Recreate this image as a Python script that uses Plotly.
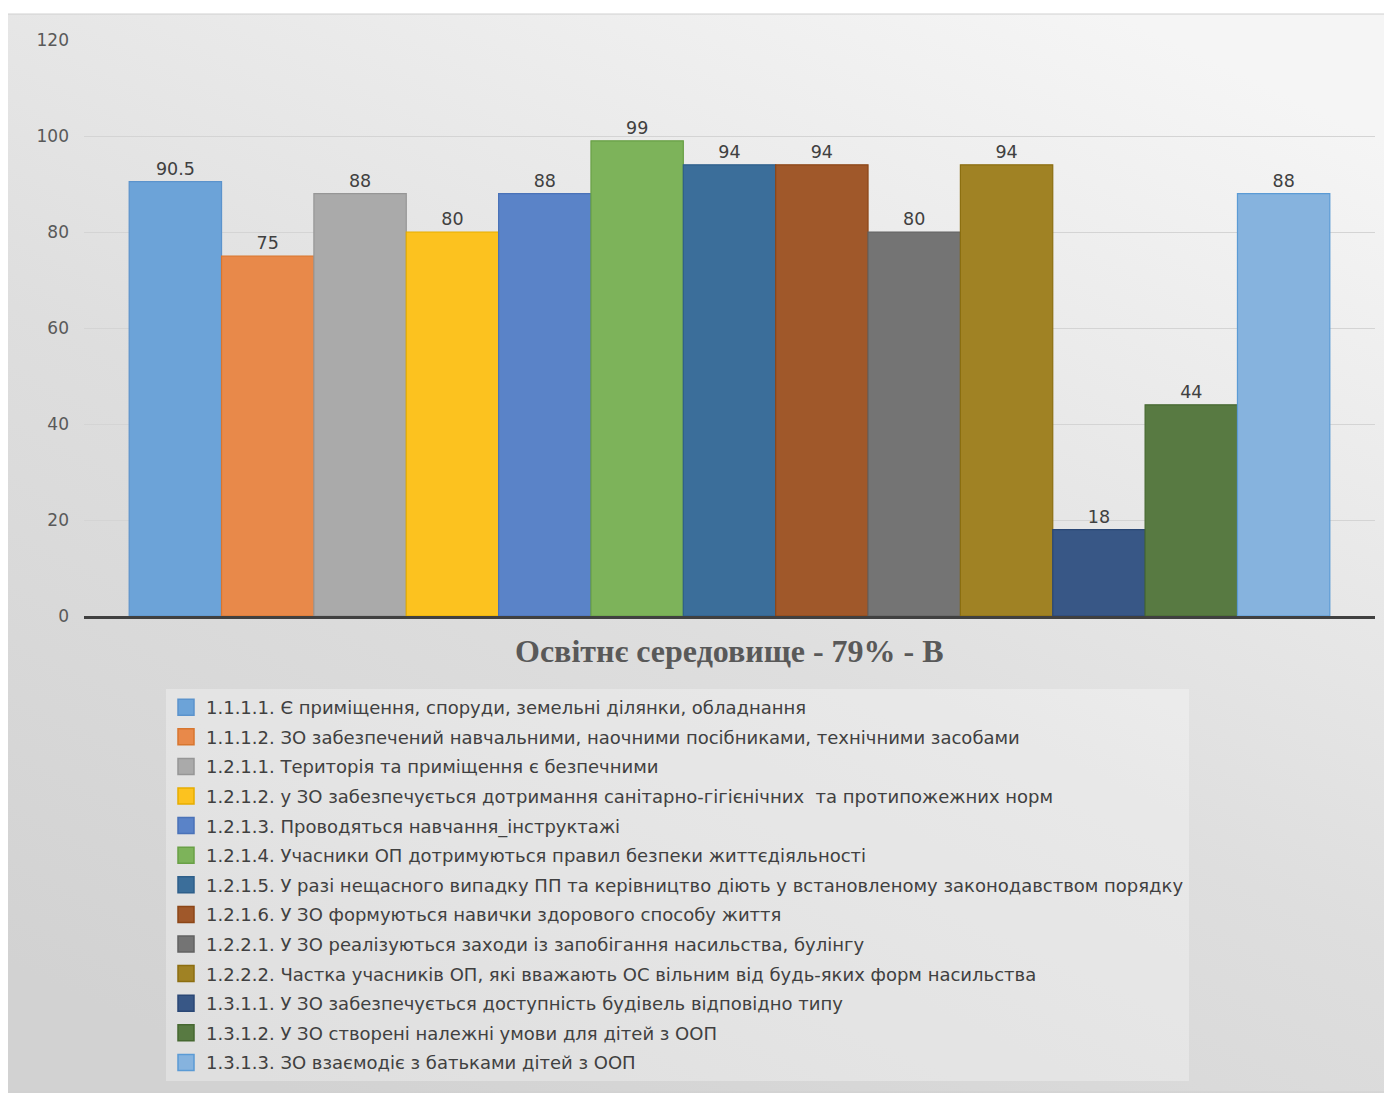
import base64
import plotly.graph_objects as go

labels = [
    "1.1.1.1. Є приміщення, споруди, земельні ділянки, обладнання",
    "1.1.1.2. ЗО забезпечений навчальними, наочними посібниками, технічними засобами",
    "1.2.1.1. Територія та приміщення є безпечними",
    "1.2.1.2. у ЗО забезпечується дотримання санітарно-гігієнічних  та протипожежних норм",
    "1.2.1.3. Проводяться навчання_інструктажі",
    "1.2.1.4. Учасники ОП дотримуються правил безпеки життєдіяльності",
    "1.2.1.5. У разі нещасного випадку ПП та керівництво діють у встановленому законодавством порядку",
    "1.2.1.6. У ЗО формуються навички здорового способу життя",
    "1.2.2.1. У ЗО реалізуються заходи із запобігання насильства, булінгу",
    "1.2.2.2. Частка учасників ОП, які вважають ОС вільним від будь-яких форм насильства",
    "1.3.1.1. У ЗО забезпечується доступність будівель відповідно типу",
    "1.3.1.2. У ЗО створені належні умови для дітей з ООП",
    "1.3.1.3. ЗО взаємодіє з батьками дітей з ООП",
]
values = [90.5, 75, 88, 80, 88, 99, 94, 94, 80, 94, 18, 44, 88]
value_text = ["90.5", "75", "88", "80", "88", "99", "94", "94", "80", "94", "18", "44", "88"]
fill_colors = ["#6ca3d8", "#e8894a", "#aaaaaa", "#fcc21f", "#5a83c8", "#7db35a", "#3b6e9a",
               "#a0582a", "#747474", "#a08224", "#385786", "#587a42", "#86b3de"]
line_colors = ["#5b93cc", "#d7762f", "#969696", "#e6ad00", "#4a72b8", "#69a046", "#2e5f8a",
               "#8c4617", "#626262", "#8c6e10", "#2a4775", "#466830", "#5b9bd5"]
title_text = "Освітнє середовище - 79% - В"
y_ticks = [0, 20, 40, 60, 80, 100, 120]

OFF = 8  # page body margin offset
W, H = 1392 - OFF, 1093 - OFF
L = 84 - OFF
T = 40 - OFF
R = W - (1375 - OFF)
B = H - (616 - OFF)
pw, ph = W - L - R, H - T - B

def px_x(p):
    return (p - OFF - L) / pw

def px_y(p):
    return (H - B - (p - OFF)) / ph

fig = go.Figure()
for i, (lab, v, t, fc, lc) in enumerate(zip(labels, values, value_text, fill_colors, line_colors)):
    fig.add_trace(go.Bar(
        x=[""], y=[v], name=lab, text=[t], textposition="outside",
        textfont=dict(size=17.5, color="#404040", family="DejaVu Sans"),
        marker=dict(color=fc, line=dict(color=lc, width=1.2)),
        showlegend=False, cliponaxis=False, hoverinfo="skip",
    ))
for i, (lab, fc, lc) in enumerate(zip(labels, fill_colors, line_colors)):
    fig.add_trace(go.Scatter(
        x=[None], y=[None], mode="markers", name=lab, legendgroup=f"g{i}",
        marker=dict(symbol="square", size=16, color=fc, line=dict(color=lc, width=1.5)),
        hoverinfo="skip",
    ))

svg = ('<svg xmlns="http://www.w3.org/2000/svg" width="100" height="100" preserveAspectRatio="none">'
       '<defs><linearGradient id="g" x1="0.8" y1="0" x2="0.2" y2="1">'
       '<stop offset="0" stop-color="#f5f5f5"/><stop offset="0.55" stop-color="#dedede"/>'
       '<stop offset="1" stop-color="#d2d2d2"/></linearGradient></defs>'
       '<rect width="100" height="100" fill="url(#g)"/></svg>')
src = "data:image/svg+xml;base64," + base64.b64encode(svg.encode()).decode()

fig.update_layout(
    width=W, height=H,
    margin=dict(l=L, r=R, t=T, b=B, pad=0, autoexpand=False),
    paper_bgcolor="white", plot_bgcolor="rgba(0,0,0,0)",
    barmode="group", bargap=0.07, bargroupgap=0,
    showlegend=True,
    legend=dict(
        x=px_x(166), y=px_y(689), xanchor="left", yanchor="top",
        orientation="v", traceorder="grouped", tracegroupgap=3.2,
        bgcolor="rgba(255,255,255,0.3)", borderwidth=0,
        font=dict(size=18, color="#404040", family="DejaVu Sans"),
        itemwidth=30, itemsizing="trace",
    ),
    images=[dict(source=src, xref="paper", yref="paper", x=px_x(7), y=px_y(14),
                 sizex=(1392 - 7) / pw, sizey=(1093 - 14) / ph, sizing="stretch",
                 xanchor="left", yanchor="top", layer="below")],
    shapes=[dict(type="rect", xref="paper", yref="paper", x0=px_x(7), x1=px_x(1391),
                 y0=px_y(1092), y1=px_y(14), line=dict(color="#d0d0d0", width=1),
                 fillcolor="rgba(0,0,0,0)", layer="below")],
    annotations=[dict(text=f"<b>{title_text}</b>", xref="paper", yref="paper",
                      x=0.5, y=px_y(651), xanchor="center", yanchor="middle",
                      showarrow=False, font=dict(family="Liberation Serif", size=32, color="#595959"))],
    xaxis=dict(showticklabels=False, showline=True, linecolor="#404040", linewidth=2.5,
               showgrid=False, zeroline=False, ticks=""),
    yaxis=dict(range=[0, 120], tickvals=y_ticks, showgrid=True, gridcolor="#d4d4d4", gridwidth=1,
               zeroline=False, showline=False, ticks="",
               tickfont=dict(size=17, color="#595959", family="DejaVu Sans"),
               ticklabelstandoff=14),
)

fig.write_html("out.html")
